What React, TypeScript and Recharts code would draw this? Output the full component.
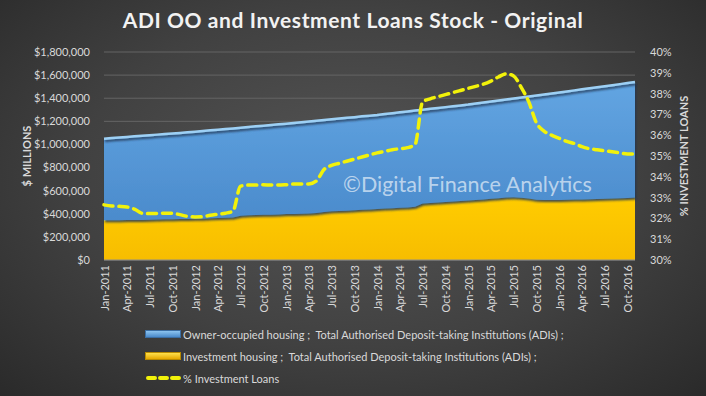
import React from "react";
import { ComposedChart, Area, Line, XAxis, YAxis, CartesianGrid } from "recharts";

const MONTH_NAMES = ["Jan", "Feb", "Mar", "Apr", "May", "Jun", "Jul", "Aug", "Sep", "Oct", "Nov", "Dec"];
const YEARS = [2011, 2012, 2013, 2014, 2015, 2016];

// $ millions
const investmentHousing = [
  343000, 344000, 345000, 347000, 347000, 347000, 348000, 350000, 352000, 353000, 354000, 355000,
  356000, 358000, 361000, 363000, 365000, 368000, 384000, 387000, 389000, 391000, 392000, 394000,
  397000, 399000, 401000, 403000, 407000, 416000, 421000, 424000, 427000, 431000, 434000, 438000,
  441000, 445000, 448000, 452000, 455000, 460000, 489000, 494000, 498000, 502000, 506000, 510000,
  514000, 519000, 524000, 529000, 535000, 541000, 543000, 538000, 532000, 521000, 519000, 519000,
  520000, 521000, 523000, 524000, 525000, 528000, 530000, 533000, 535000, 537000, 541000,
];

const ownerOccupied = [
  707000, 711000, 715000, 718000, 723000, 728000, 732000, 735000, 738000, 742000, 746000, 750000,
  754000, 758000, 761000, 764000, 768000, 771000, 761000, 764000, 768000, 771000, 776000, 780000,
  783000, 787000, 792000, 796000, 798000, 795000, 797000, 800000, 803000, 805000, 809000, 811000,
  814000, 818000, 822000, 826000, 830000, 833000, 811000, 814000, 817000, 821000, 824000, 828000,
  831000, 835000, 839000, 842000, 845000, 848000, 855000, 868000, 883000, 903000, 914000, 922000,
  930000, 938000, 945000, 953000, 961000, 967000, 974000, 980000, 987000, 994000, 999000,
];

// % of total
const pctInvestment = [
  32.65, 32.6, 32.58, 32.55, 32.45, 32.25, 32.23, 32.24, 32.25, 32.25, 32.18, 32.1,
  32.07, 32.08, 32.15, 32.2, 32.25, 32.35, 33.55, 33.6, 33.6, 33.62, 33.6, 33.6,
  33.62, 33.65, 33.65, 33.65, 33.8, 34.35, 34.55, 34.65, 34.75, 34.85, 34.95, 35.05,
  35.15, 35.22, 35.3, 35.35, 35.4, 35.55, 37.6, 37.75, 37.85, 37.95, 38.05, 38.15,
  38.25, 38.35, 38.45, 38.6, 38.8, 38.95, 38.85, 38.3, 37.6, 36.6, 36.2, 36.0,
  35.85, 35.7, 35.6, 35.45, 35.35, 35.3, 35.25, 35.2, 35.15, 35.1, 35.1,
];

const leftTicks = [0, 200000, 400000, 600000, 800000, 1000000, 1200000, 1400000, 1600000, 1800000];
const rightTicks = [30, 31, 32, 33, 34, 35, 36, 37, 38, 39, 40];

const months = YEARS.flatMap((y) => MONTH_NAMES.map((m) => `${m}-${y}`)).slice(0, pctInvestment.length);

const data = months.map((month, i) => ({
  month,
  inv: investmentHousing[i],
  oo: ownerOccupied[i],
  pct: pctInvestment[i],
}));

const TEXT = "#d9d9d9";
const FONT = "Lato, 'Open Sans', sans-serif";

const fmtMoney = (v: number) => "$" + v.toLocaleString("en-US");

const XTick = ({ x, y, payload }: any) => (
  <text
    x={x}
    y={y}
    transform={`rotate(-90 ${x} ${y})`}
    textAnchor="end"
    dominantBaseline="central"
    fill={TEXT}
    fontSize={11}
    fontFamily={FONT}
  >
    {payload.value}
  </text>
);

function LegendRow({ top, icon, label }: { top: number; icon: React.ReactNode; label: string }) {
  return (
    <div style={{ position: "absolute", left: 145, top, height: 14, display: "flex", alignItems: "center" }}>
      <div style={{ width: 36, height: 14, display: "flex", alignItems: "center" }}>{icon}</div>
      <span style={{ marginLeft: 2, color: TEXT, fontSize: 11, fontFamily: FONT, whiteSpace: "pre" }}>{label}</span>
    </div>
  );
}

export default function App() {
  return (
    <div
      style={{
        position: "absolute",
        left: 0,
        top: 0,
        width: 706,
        height: 396,
        overflow: "hidden",
        background: "radial-gradient(ellipse at 50% 45%, #555555 0%, #414141 55%, #2a2a2a 100%)",
        fontFamily: FONT,
      }}
    >
      <ComposedChart width={706} height={396} data={data} margin={{ top: 52, right: 0, bottom: 76, left: 0 }}>
        <defs>
          <linearGradient id="ooFill" x1="0" y1="0" x2="0" y2="1">
            <stop offset="0%" stopColor="#62a5e2" />
            <stop offset="100%" stopColor="#4b8bcc" />
          </linearGradient>
          <linearGradient id="invFill" x1="0" y1="0" x2="0" y2="1">
            <stop offset="0%" stopColor="#ffcc00" />
            <stop offset="100%" stopColor="#f7bd00" />
          </linearGradient>
          <filter id="ooShadow" x="-5%" y="-5%" width="110%" height="115%">
            <feDropShadow dx="1" dy="2" stdDeviation="1" floodColor="#1a3150" floodOpacity="0.85" />
          </filter>
        </defs>
        <CartesianGrid vertical={false} stroke="#656565" yAxisId="left" />
        <XAxis
          dataKey="month"
          scale="point"
          interval={2}
          height={60}
          tickSize={0}
          tickMargin={5}
          tick={<XTick />}
          axisLine={{ stroke: "#8a8a8a" }}
          tickLine={false}
        />
        <YAxis
          yAxisId="left"
          width={104}
          domain={[0, 1800000]}
          ticks={leftTicks}
          tickFormatter={fmtMoney}
          tick={{ fill: TEXT, fontSize: 11, fontFamily: FONT }}
          axisLine={false}
          tickLine={false}
          tickSize={0}
          tickMargin={14}
          interval={0}
        />
        <YAxis
          yAxisId="right"
          orientation="right"
          width={71}
          domain={[30, 40]}
          ticks={rightTicks}
          tickFormatter={(v: number) => `${v}%`}
          tick={{ fill: TEXT, fontSize: 11, fontFamily: FONT, textAnchor: "start" }}
          axisLine={false}
          tickLine={false}
          tickSize={0}
          tickMargin={15}
          interval={0}
        />
        <Area
          yAxisId="left"
          type="linear"
          dataKey="inv"
          stackId="stock"
          name="Investment housing ;  Total Authorised Deposit-taking Institutions (ADIs) ;"
          fill="url(#invFill)"
          fillOpacity={1}
          stroke="#ffe640"
          strokeWidth={2}
          isAnimationActive={false}
        />
        <Area
          yAxisId="left"
          type="linear"
          dataKey="oo"
          stackId="stock"
          name="Owner-occupied housing ;  Total Authorised Deposit-taking Institutions (ADIs) ;"
          fill="url(#ooFill)"
          fillOpacity={1}
          stroke="#9dd0f5"
          strokeWidth={2.5}
          filter="url(#ooShadow)"
          isAnimationActive={false}
        />
        <Line
          yAxisId="right"
          type="monotone"
          dataKey="pct"
          name="% Investment Loans"
          stroke="#f2f20a"
          strokeWidth={3.5}
          strokeDasharray="9 6"
          strokeLinecap="round"
          dot={false}
          isAnimationActive={false}
        />
      </ComposedChart>

      <svg width={706} height={396} style={{ position: "absolute", left: 0, top: 0, pointerEvents: "none" }}>
        <text
          x={353}
          y={28}
          textAnchor="middle"
          fill="#f2f2f2"
          fontSize={21}
          fontWeight="bold"
          letterSpacing={0.6}
          fontFamily={FONT}
        >
          ADI OO and Investment  Loans Stock - Original
        </text>
        <text
          x={26}
          y={156}
          transform="rotate(-90 26 156)"
          textAnchor="middle"
          dominantBaseline="central"
          fill={TEXT}
          fontSize={11}
          fontWeight="bold"
          fontFamily={FONT}
        >
          $ MILLIONS
        </text>
        <text
          x={683}
          y={156}
          transform="rotate(-90 683 156)"
          textAnchor="middle"
          dominantBaseline="central"
          fill={TEXT}
          fontSize={11}
          fontWeight="bold"
          fontFamily={FONT}
        >
          % INVESTMENT LOANS
        </text>
        <text x={343} y={192} fill="rgba(255,255,255,0.62)" fontSize={21.5} fontFamily={FONT}>
          ©Digital Finance Analytics
        </text>
      </svg>

      <LegendRow
        top={327}
        label="Owner-occupied housing ;  Total Authorised Deposit-taking Institutions (ADIs) ;"
        icon={<div style={{ width: 34, height: 6, background: "linear-gradient(#8cc4f0, #4a8acb)", border: "1px solid #3b6ea3" }} />}
      />
      <LegendRow
        top={349}
        label="Investment housing ;  Total Authorised Deposit-taking Institutions (ADIs) ;"
        icon={<div style={{ width: 34, height: 6, background: "linear-gradient(#ffe14d, #e6a800)", border: "1px solid #b88a00" }} />}
      />
      <LegendRow
        top={371}
        label="% Investment Loans"
        icon={
          <svg width={36} height={8}>
            <line x1={3} y1={4} x2={34} y2={4} stroke="#f2f20a" strokeWidth={4} strokeDasharray="7 5" strokeLinecap="round" />
          </svg>
        }
      />
    </div>
  );
}
